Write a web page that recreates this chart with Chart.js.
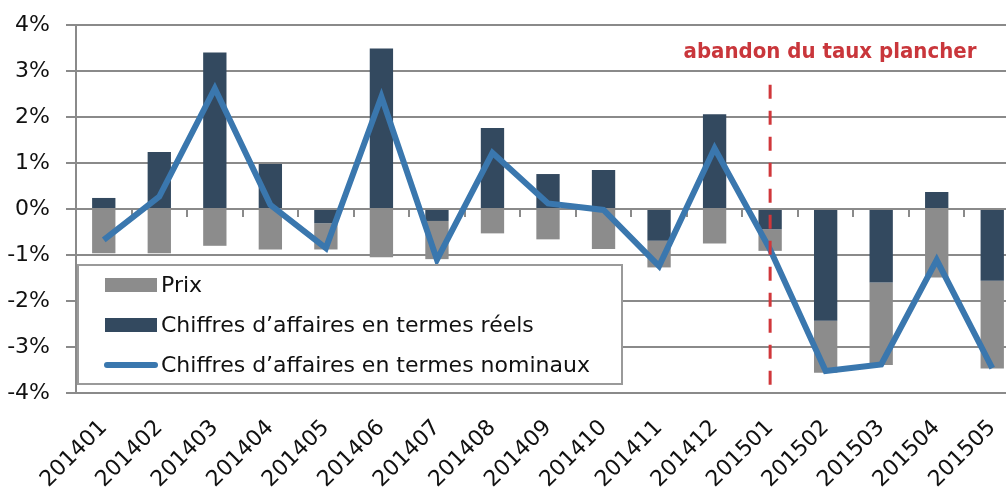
<!DOCTYPE html>
<html>
<head>
<meta charset="utf-8">
<script src="https://cdn.jsdelivr.net/npm/chart.js@4.4.1/dist/chart.umd.min.js"></script>
<style>
    html, body { margin: 0; padding: 0; background: #fff; overflow: hidden; }
    #wrap { position: relative; width: 1033px; height: 491px; }
</style>
</head>
<body>
<div id="wrap"><canvas id="caChart"></canvas></div>
<script>
    // == DONNÉES ==
    const categories = ['201401', '201402', '201403', '201404', '201405', '201406', '201407', '201408', '201409',
        '201410', '201411', '201412', '201501', '201502', '201503', '201504', '201505'];
    const prix = [-0.96, -0.96, -0.80, -0.88, -0.57, -1.05, -0.83, -0.53, -0.66, -0.87, -0.58, -0.75, -0.47, -1.13, -1.79, -1.49, -1.91];
    const reels = [0.24, 1.24, 3.40, 0.98, -0.31, 3.49, -0.26, 1.76, 0.76, 0.85, -0.69, 2.06, -0.44, -2.43, -1.60, 0.37, -1.56];
    const nominaux = [-0.67, 0.27, 2.62, 0.09, -0.85, 2.44, -1.10, 1.22, 0.12, -0.02, -1.24, 1.32, -0.88, -3.52, -3.38, -1.11, -3.46];
    const yTicks = [-4, -3, -2, -1, 0, 1, 2, 3, 4];
    const eventMonth = '201501';
    const eventLabel = 'abandon du taux plancher';

    const FONT = '"DejaVu Sans", sans-serif';
    const GRID = '#8a8a8a';

    // -- petits traits sous l'axe des catégories (à 0%) + ligne rouge pointillée + légende
    const extras = {
        id: 'extras',
        beforeDatasetsDraw(chart) {
            const ctx = chart.ctx, x = chart.scales.x, y = chart.scales.y;
            const y0 = y.getPixelForValue(0);
            const half = (x.getPixelForValue(1) - x.getPixelForValue(0)) / 2;
            ctx.save();
            ctx.strokeStyle = GRID;
            ctx.lineWidth = 2;
            for (let i = 0; i <= categories.length; i++) {
                const px = Math.round(x.getPixelForValue(0) - half + i * half * 2);
                ctx.beginPath();
                ctx.moveTo(px, y0);
                ctx.lineTo(px, y0 + 8);
                ctx.stroke();
            }
            ctx.restore();
        },
        afterDraw(chart) {
            const ctx = chart.ctx, x = chart.scales.x, y = chart.scales.y;
            const ex = x.getPixelForValue(categories.indexOf(eventMonth));
            ctx.save();
            // ligne verticale rouge
            ctx.strokeStyle = '#d0373b';
            ctx.lineWidth = 3;
            ctx.setLineDash([14, 12]);
            ctx.beginPath();
            ctx.moveTo(ex, y.getPixelForValue(2.7));
            ctx.lineTo(ex, y.getPixelForValue(-4));
            ctx.stroke();
            ctx.setLineDash([]);
            ctx.fillStyle = '#c9363b';
            ctx.font = 'bold 22px "DejaVu Sans Condensed", "DejaVu Sans", sans-serif';
            ctx.textAlign = 'center';
            ctx.textBaseline = 'middle';
            ctx.fillText(eventLabel, 830, 52);

            // légende (cadre blanc dans la zone du graphique)
            ctx.fillStyle = '#fff';
            ctx.fillRect(78, 265, 544, 119);
            ctx.strokeStyle = '#9a9a9a';
            ctx.lineWidth = 2;
            ctx.strokeRect(78, 265, 544, 119);
            const items = [
                { ds: chart.data.datasets[2], kind: 'bar', yy: 285 },
                { ds: chart.data.datasets[1], kind: 'bar', yy: 325 },
                { ds: chart.data.datasets[0], kind: 'line', yy: 365 }
            ];
            ctx.font = '22px ' + FONT;
            ctx.textAlign = 'left';
            items.forEach(it => {
                if (it.kind === 'bar') {
                    ctx.fillStyle = it.ds.backgroundColor;
                    ctx.fillRect(105, it.yy - 7, 52, 14);
                } else {
                    ctx.strokeStyle = it.ds.borderColor;
                    ctx.lineWidth = 6;
                    ctx.lineCap = 'round';
                    ctx.beginPath();
                    ctx.moveTo(107, it.yy);
                    ctx.lineTo(155, it.yy);
                    ctx.stroke();
                }
                ctx.fillStyle = '#111';
                ctx.fillText(it.ds.label, 161, it.yy + 1);
            });
            ctx.restore();
        }
    };

    const ctx = document.getElementById('caChart').getContext('2d');
    const caChart = new Chart(ctx, {
        data: {
            labels: categories,
            datasets: [{
                type: 'line',
                label: 'Chiffres d’affaires en termes nominaux',
                data: nominaux,
                borderColor: '#3a77ae',
                borderWidth: 6,
                borderJoinStyle: 'miter',
                pointRadius: 0,
                tension: 0,
                stack: 'nom',
                order: 0
            }, {
                type: 'bar',
                label: 'Chiffres d’affaires en termes réels',
                data: reels,
                backgroundColor: '#33495f',
                stack: 'ca',
                order: 1,
                categoryPercentage: 1,
                barPercentage: 0.42
            }, {
                type: 'bar',
                label: 'Prix',
                data: prix,
                backgroundColor: '#8c8c8c',
                stack: 'ca',
                order: 2,
                categoryPercentage: 1,
                barPercentage: 0.42
            }]
        },
        options: {
            responsive: true,
            maintainAspectRatio: false,
            animation: false,
            layout: { padding: { top: 25, right: 3, left: 0, bottom: 0 } },
            plugins: { legend: { display: false }, tooltip: { enabled: false } },
            scales: {
                x: {
                    stacked: true,
                    grid: { display: false, drawTicks: false },
                    border: { display: false },
                    ticks: {
                        color: '#111',
                        font: { family: FONT, size: 22 },
                        minRotation: 45,
                        maxRotation: 45,
                        padding: 22,
                        autoSkip: false
                    },
                    afterFit(scale) { scale.height = 98; }
                },
                y: {
                    stacked: true,
                    min: yTicks[0],
                    max: yTicks[yTicks.length - 1],
                    afterBuildTicks(scale) { scale.ticks = yTicks.map(v => ({ value: v })); },
                    grid: { color: GRID, lineWidth: 2, tickLength: 10 },
                    border: { display: true, color: GRID, width: 2 },
                    ticks: {
                        color: '#111',
                        font: { family: FONT, size: 22 },
                        padding: 16,
                        callback: v => v + '%'
                    },
                    afterFit(scale) {
                        scale.width = 76;
                        scale.paddingTop = 12;
                        scale.paddingBottom = 0;
                    }
                }
            }
        },
        plugins: [extras]
    });
</script>
</body>
</html>
